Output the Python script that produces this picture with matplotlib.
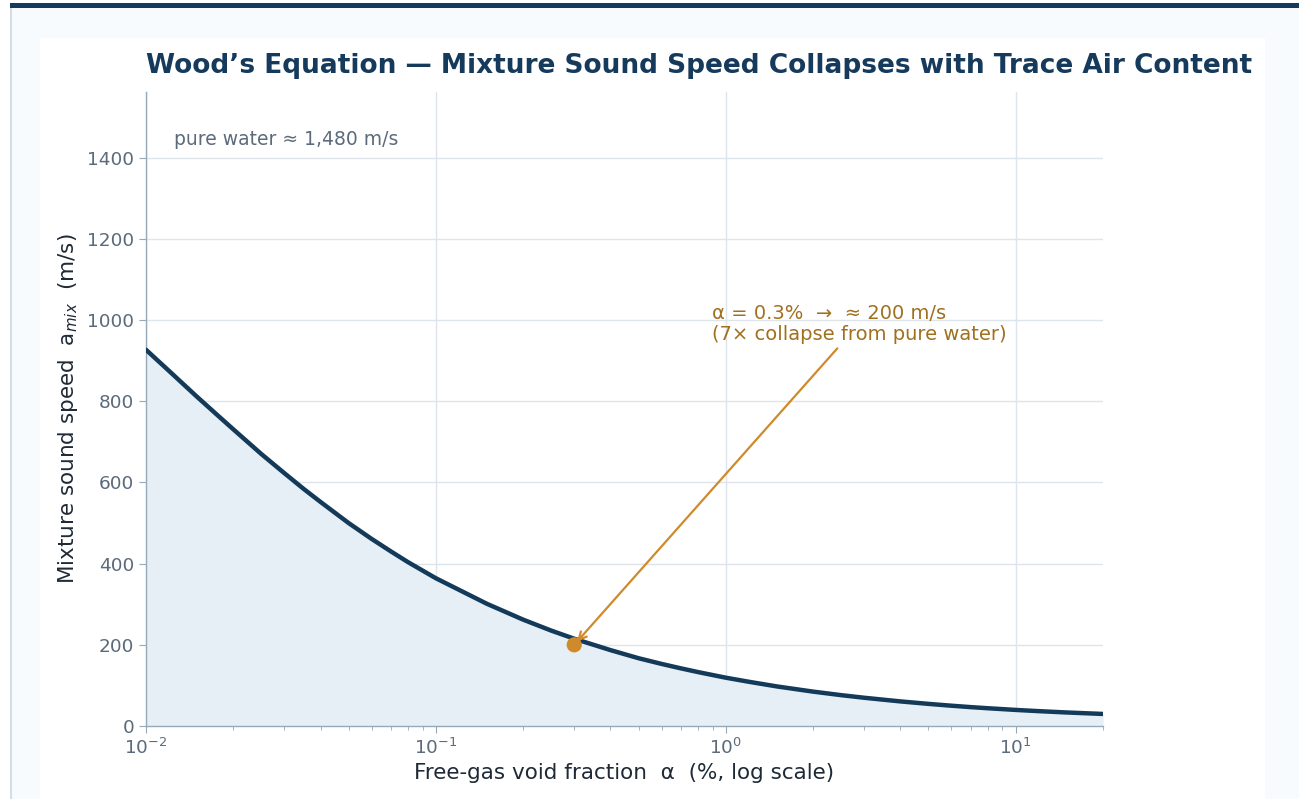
import matplotlib
matplotlib.use("Agg")
import matplotlib.pyplot as plt
from matplotlib.patches import Rectangle

plt.rcParams["font.family"] = ["DejaVu Sans"]

# Data (void fraction in %, mixture sound speed in m/s)
void_pct = [0.01, 0.012, 0.015, 0.0175, 0.02, 0.025, 0.03, 0.035, 0.04, 0.05, 0.06,
            0.07, 0.08, 0.1, 0.15, 0.2, 0.25, 0.3, 0.4, 0.5, 0.6, 0.7, 0.8, 1.0,
            1.2, 1.5, 2.0, 2.5, 3.0, 4.0, 5.0, 6.0, 7.0, 8.0, 10.0, 12.0, 15.0, 20.0]
speed = [927, 875, 811, 768, 731, 670, 623, 584, 552, 500, 461,
         430, 404, 364, 301, 262, 235, 215, 187, 167, 153, 142, 133, 119,
         109, 97.5, 84.7, 76.0, 69.6, 60.6, 54.5, 50.0, 46.5, 43.8, 39.6, 36.6, 33.3, 29.7]
marker_pct = [0.3]
marker_speed = [200]
y_ticks = [0, 200, 400, 600, 800, 1000, 1200, 1400]

navy = "#143a5a"
orange = "#cf8a2c"
orange_text = "#a0701e"
tick_col = "#5b6b7b"
label_col = "#1f2a36"

fig = plt.figure(figsize=(12.99, 7.99), dpi=100, facecolor="white")
# card background, border, top accent bar, white panel
fig.patches.append(Rectangle((10/1299, 0), 1 - 10/1299, 1 - 8/799, transform=fig.transFigure,
                             facecolor="#f8fbfe", edgecolor="none", zorder=-3))
fig.patches.append(Rectangle((10/1299, 0), 0.0012, 1 - 8/799, transform=fig.transFigure,
                             facecolor="#d3dde6", edgecolor="none", zorder=-2))
fig.patches.append(Rectangle((10/1299, 1 - 8/799), 1 - 10/1299, 5/799, transform=fig.transFigure,
                             facecolor="#163a5c", edgecolor="none", zorder=-2))
fig.patches.append(Rectangle((40/1299, 0), (1265 - 40)/1299, 1 - 38/799, transform=fig.transFigure,
                             facecolor="white", edgecolor="none", zorder=-2))

ax = fig.add_axes([146/1299, 1 - 726/799, (1103 - 146)/1299, (726 - 92)/799])
ax.set_facecolor("none")

ax.fill_between(void_pct, speed, 0, color="#e6eff5", zorder=1, linewidth=0)
ax.plot(void_pct, speed, color=navy, linewidth=3.2, zorder=3,
        solid_capstyle="round", solid_joinstyle="round")
ax.scatter(marker_pct, marker_speed, s=120, color=orange, zorder=4, edgecolor="none")

ax.set_xscale("log")
ax.set_xlim(0.01, 20)
ax.set_ylim(0, 1562)
ax.set_yticks(y_ticks)

ax.grid(True, which="major", color="#dde4eb", linewidth=1.0, zorder=0)
ax.set_axisbelow(True)
for s in ["top", "right"]:
    ax.spines[s].set_visible(False)
for s in ["left", "bottom"]:
    ax.spines[s].set_color("#94a9ba")
    ax.spines[s].set_linewidth(1.0)
ax.tick_params(axis="both", which="major", colors="#94a9ba", labelcolor=tick_col,
               labelsize=13.3, length=5)
ax.tick_params(axis="x", which="minor", colors="#94a9ba", length=3)

ax.set_xlabel("Free-gas void fraction  α  (%, log scale)", fontsize=15.5, color=label_col, labelpad=4)
ax.set_ylabel("Mixture sound speed  a$_{mix}$  (m/s)", fontsize=15.5, color=label_col, labelpad=5)

ax.set_title("Wood’s Equation — Mixture Sound Speed Collapses with Trace Air Content",
             loc="left", fontsize=19, fontweight="bold", color="#163a5c", pad=14)

ax.text(0.0125, 1444, "pure water ≈ 1,480 m/s", fontsize=13.5, color=tick_col,
        ha="left", va="center")

ax.annotate("α = 0.3%  →  ≈ 200 m/s\n(7× collapse from pure water)",
            xy=(marker_pct[0], marker_speed[0]), xytext=(0.895, 991),
            ha="left", va="center", fontsize=14, color=orange_text, linespacing=1.1,
            arrowprops=dict(arrowstyle="->", color=orange, lw=1.6, shrinkB=3))

fig.savefig("out.png", dpi=100, facecolor=fig.get_facecolor())
